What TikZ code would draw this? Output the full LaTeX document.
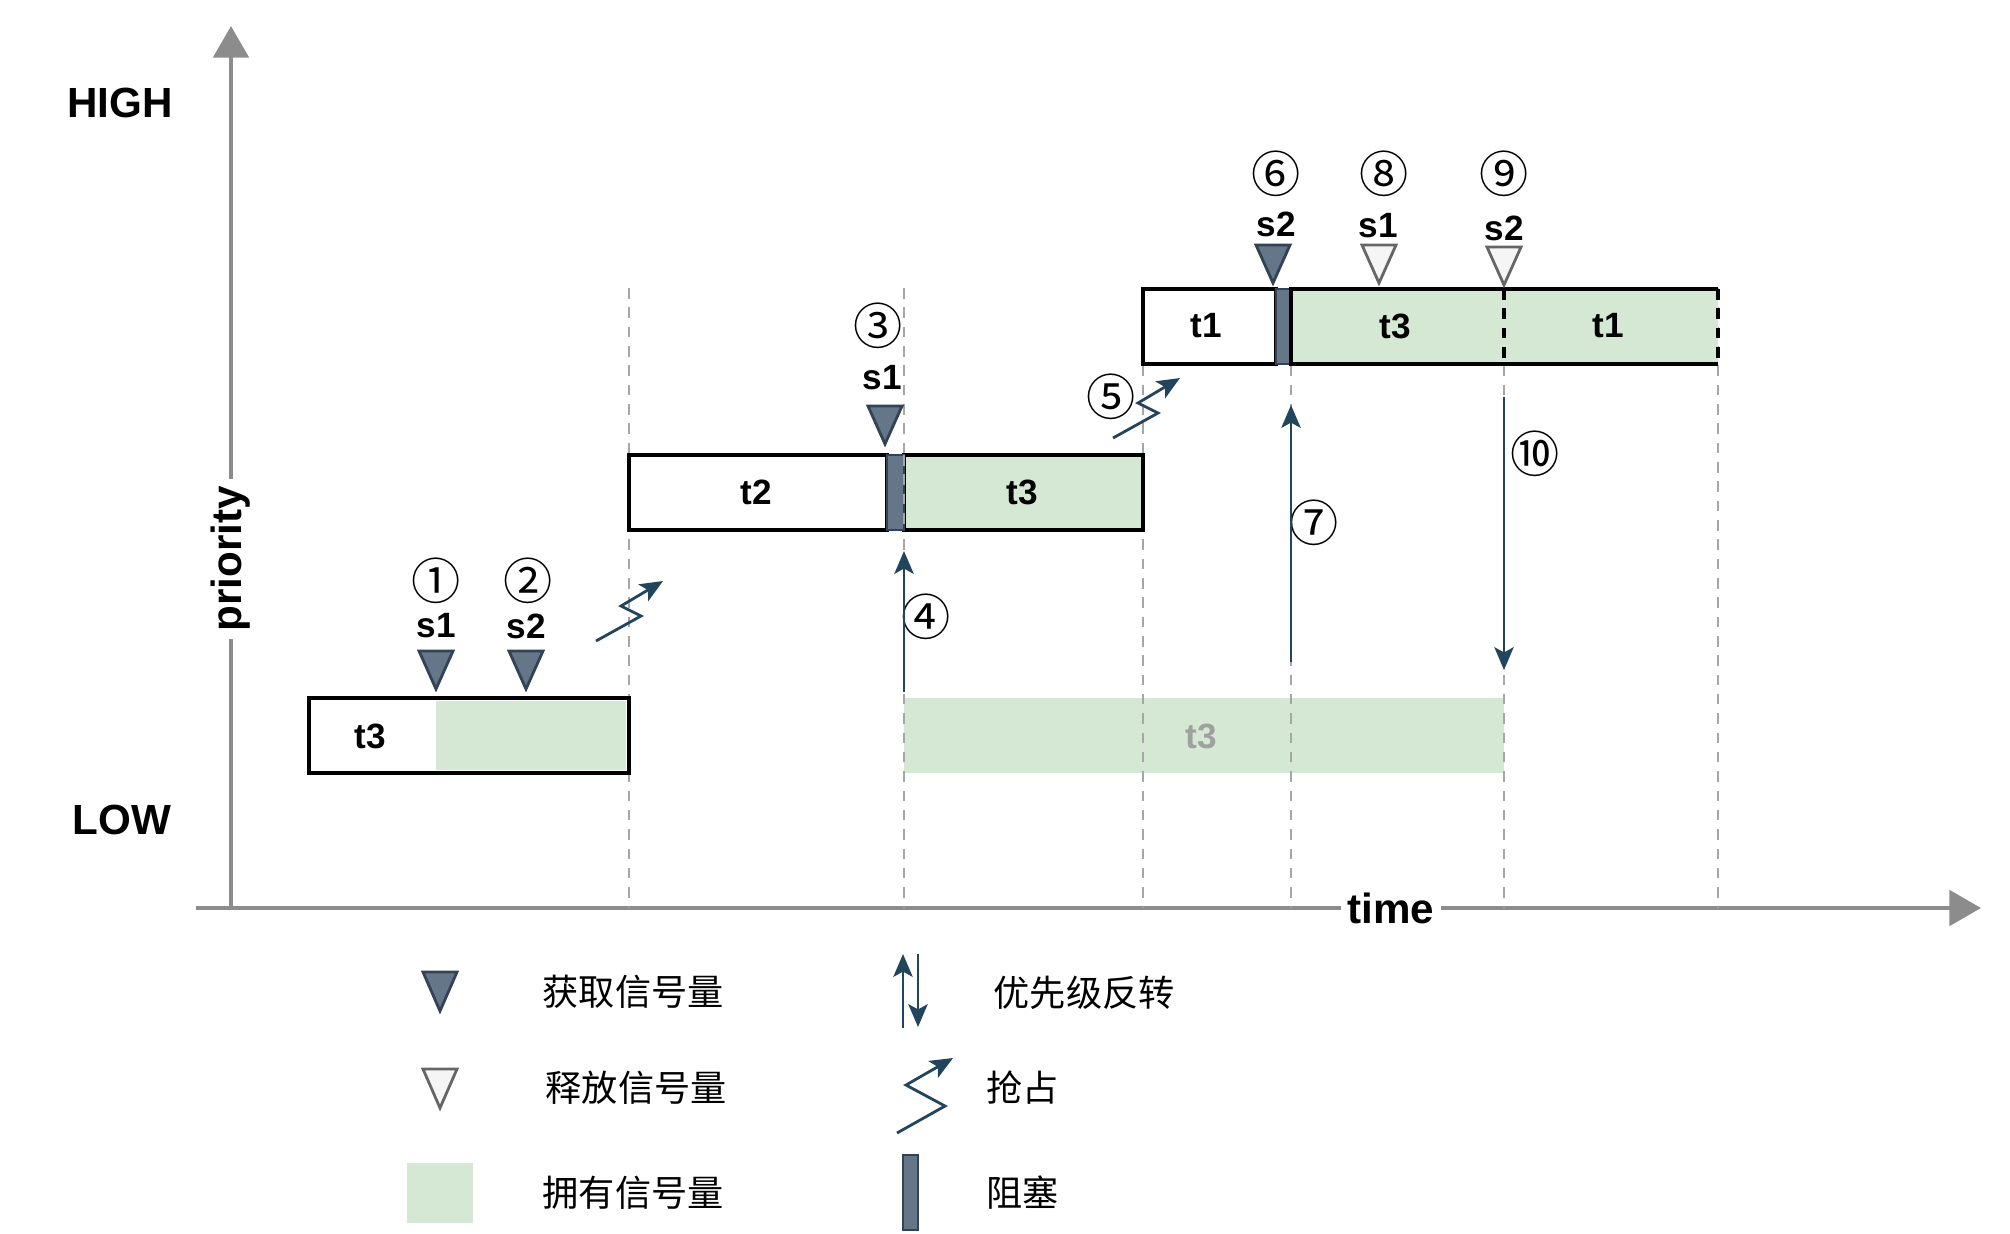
\documentclass[tikz,border=0pt]{standalone}
\usepackage{fontspec}
\setmainfont{Liberation Sans}
\newfontfamily\cjk{Noto Sans CJK SC}
\usepackage{tikz}
\usetikzlibrary{arrows.meta}
\definecolor{ownfill}{HTML}{D5E8D4}
\definecolor{lockfill}{HTML}{647687}
\definecolor{lockdraw}{HTML}{314354}
\definecolor{freefill}{HTML}{F5F5F5}
\definecolor{freedraw}{HTML}{666666}
\definecolor{arrowblue}{HTML}{23445D}
\definecolor{axisgray}{HTML}{8C8C8C}
\definecolor{guidegray}{HTML}{A6A6A6}
\definecolor{ghostgray}{HTML}{A0A0A0}
\tikzstyle{task}=[draw=black,line width=0.9pt]
\tikzstyle{owned}=[fill=ownfill]
\tikzstyle{blocked}=[fill=lockfill,draw=lockdraw,line width=0.7pt]
\tikzstyle{acquire}=[fill=lockfill,draw=lockdraw,line width=0.8pt]
\tikzstyle{release}=[fill=freefill,draw=freedraw,line width=0.8pt]
\tikzstyle{tasklabel}=[font=\bfseries\fontsize{10}{12}\selectfont,inner sep=0pt]
\tikzstyle{axislabel}=[font=\bfseries\fontsize{12}{14}\selectfont,inner sep=0pt]
\tikzstyle{num}=[font=\cjk\fontsize{14}{16}\selectfont,inner sep=0pt]
\tikzstyle{legendtext}=[font=\cjk\fontsize{10.3}{12}\selectfont,anchor=west,inner sep=0pt]
\tikzstyle{guide}=[guidegray,line width=0.6pt,dash pattern=on 3pt off 2.5pt]
\tikzstyle{inversion}=[arrowblue,line width=0.7pt,-{Stealth[length=6.5pt,width=5.5pt,inset=1.5pt]}]
\tikzstyle{preempt}=[arrowblue,line width=0.8pt,-{Stealth[length=6.5pt,width=5.5pt,inset=1.5pt]}]
\tikzstyle{axis}=[axisgray,line width=1.4pt,-{Triangle[length=9pt,width=10pt]}]

\begin{document}
\begin{tikzpicture}[x=0.1mm,y=-0.1mm]
\useasboundingbox (0,0) rectangle (2010,1233);

% axes
\coordinate (origin) at (231,908);
\coordinate (ytip) at (231,26);
\coordinate (xstart) at (196,908);
\coordinate (xtip) at (1981,908);
\draw[axis] (origin) -- (ytip);
\draw[axis] (xstart) -- (xtip);

\node[axislabel] (high) at (120,103) {HIGH};
\node[axislabel] (low) at (122,820) {LOW};
\node[axislabel,rotate=90,fill=white,inner xsep=2pt] (prio) at (231,559) {priority};

% tasks
\fill[owned] (904,698) rectangle (1504,773);
\foreach \x in {629,904,1143,1291,1504,1718}
    \draw[guide] (\x,288) -- (\x,908);

\fill[owned] (436,701) rectangle (626,770);
\draw[task] (309,698) rectangle (629,773);
\draw[task] (629,455) rectangle (887,530);
\draw[task,owned] (904,455) rectangle (1143,530);
\draw[blocked] (887,455) rectangle (904,530);
\draw[guide] (904,455) -- (904,530);
\draw[task] (1143,289) rectangle (1276,364);
\draw[blocked] (1276,289) rectangle (1291,364);
\fill[owned] (1291,289) rectangle (1718,364);
\draw[task] (1718,289) -- (1291,289) -- (1291,364) -- (1718,364);
\draw[task,dash pattern=on 3pt off 2.5pt] (1504,289) -- (1504,364);
\draw[task,dash pattern=on 3pt off 2.5pt] (1718,289) -- (1718,364);

\node[axislabel,fill=white,inner xsep=2pt,inner ysep=1pt] (time) at (1391,908) {time};

\foreach \pos/\name/\text in {{(370,736)/lowthree/t3}, {(756,492)/two/t2}, {(1022,492)/midthree/t3}, {(1206,326)/oneA/t1}, {(1395,326)/topthree/t3}, {(1608,326)/oneB/t1}}
    \node[tasklabel] (\name) at \pos {\text};
\node[tasklabel,ghostgray] (ghostthree) at (1201,736) {t3};

% semaphores
\foreach \x/\y in {436/651, 526/651, 885/406, 1273/245}
    \draw[acquire] (\x-17,\y) -- (\x+17,\y) -- (\x,\y+38) -- cycle;
\foreach \x/\y in {1379/245, 1504/247}
    \draw[release] (\x-17,\y) -- (\x+17,\y) -- (\x,\y+38) -- cycle;

\foreach \pos/\name/\text in {{(436,626)/semA/s1}, {(526,626)/semB/s2}, {(882,378)/semC/s1}, {(1276,224)/semD/s2}, {(1378,226)/semE/s1}, {(1504,228)/semF/s2}}
    \node[tasklabel] (\name) at \pos {\text};

\foreach \pos/\name/\text in {{(436,581)/one/①}, {(528,581)/two/②}, {(878,326)/three/③}, {(926,617)/four/④}, {(1111,397)/five/⑤}, {(1276,174)/six/⑥}, {(1314,523)/seven/⑦}, {(1384,174)/eight/⑧}, {(1504,174)/nine/⑨}, {(1535,454)/ten/⑩}}
    \node[num] (n\name) at \pos {\text};

% priority inversion and preemption
\coordinate (fourstart) at (904,692);
\coordinate (fourend) at (904,551);
\coordinate (sevenstart) at (1291,662);
\coordinate (sevenend) at (1291,405);
\coordinate (tenstart) at (1504,397);
\coordinate (tenend) at (1504,670);
\draw[inversion] (fourstart) -- (fourend);
\draw[inversion] (sevenstart) -- (sevenend);
\draw[inversion] (tenstart) -- (tenend);

\foreach \x/\y in {596/641, 1113/438}
    \draw[preempt] (\x,\y) -- ++(45,-25) -- ++(-20,-10) -- ++(42,-25);

% legend
\draw[acquire] (423,972) -- (457,972) -- (440,1011) -- cycle;
\draw[release] (423,1069) -- (457,1069) -- (440,1108) -- cycle;
\fill[owned] (407,1163) rectangle (473,1223);
\draw[inversion] (903,1028) -- (903,954);
\draw[inversion] (918,954) -- (918,1027);
\draw[preempt] (897,1133) -- ++(48,-27) -- ++(-39,-21) -- ++(47,-27);
\draw[blocked] (903,1155) rectangle (918,1230);

\node[legendtext] (acq) at (542,992) {获取信号量};
\node[legendtext] (rel) at (545,1088) {释放信号量};
\node[legendtext] (own) at (542,1193) {拥有信号量};
\node[legendtext] (inv) at (993,993) {优先级反转};
\node[legendtext] (pre) at (986,1088) {抢占};
\node[legendtext] (blk) at (986,1193) {阻塞};

\end{tikzpicture}
\end{document}
